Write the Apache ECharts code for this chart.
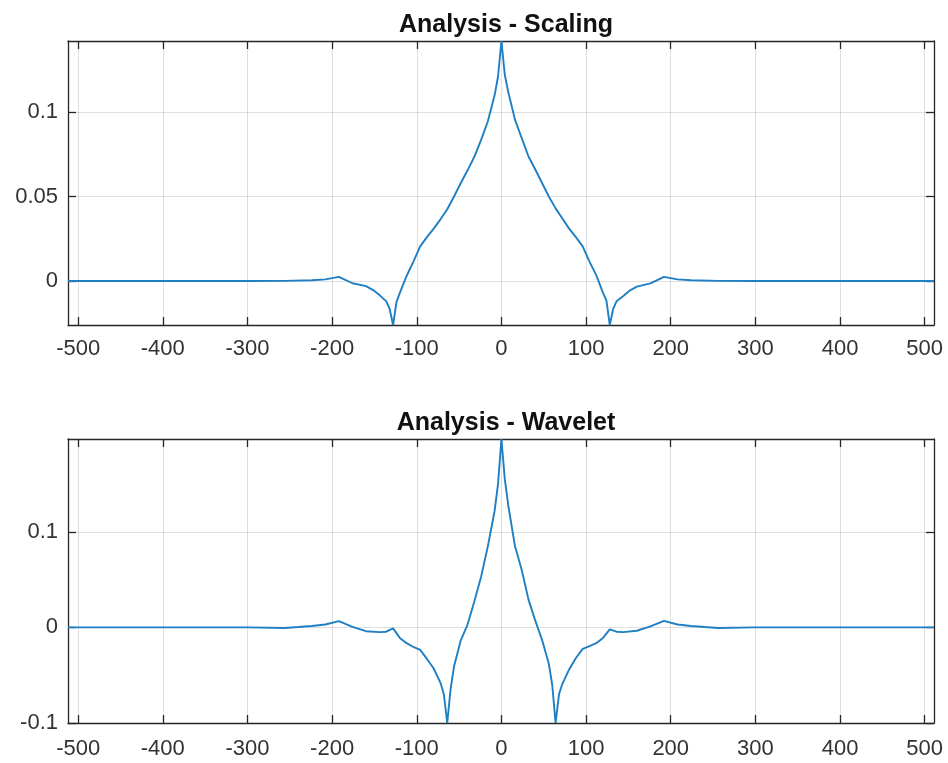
<!DOCTYPE html>
<html>
<head>
<meta charset="utf-8">
<script src="https://cdn.jsdelivr.net/npm/echarts@6/dist/echarts.min.js"></script>
<style>html,body{margin:0;padding:0;background:#fff}#c{width:948px;height:763px}</style>
</head>
<body>
<div id="c"></div>
<script>
// ---- data ----
var xTicks = [-500, -400, -300, -200, -100, 0, 100, 200, 300, 400, 500];
var scalingYTicks = [0, 0.05, 0.1];
var waveletYTicks = [-0.1, 0, 0.1];

var scalingX = [-512, -300, -256, -224, -208, -192, -176, -160, -152, -144, -136, -132, -128, -124, -120, -112, -104, -96, -88, -80, -72, -64, -56, -48, -40, -32, -24, -16, -8, -4, 0,
  4, 8, 16, 24, 32, 40, 48, 56, 64, 72, 80, 88, 96, 104, 112, 120, 124, 128, 132, 136, 144, 152, 160, 176, 192, 208, 224, 256, 300, 511];
var scalingY = [0, 0, 0.0001, 0.0005, 0.001, 0.0025, -0.0013, -0.003, -0.0052, -0.0083, -0.012, -0.0165, -0.026, -0.0125, -0.007, 0.003, 0.0115, 0.0205, 0.026, 0.031, 0.0365, 0.0425, 0.050, 0.058, 0.0655, 0.0735, 0.0835, 0.0945, 0.110, 0.121, 0.142,
  0.122, 0.112, 0.0955, 0.0845, 0.0737, 0.066, 0.058, 0.050, 0.043, 0.037, 0.031, 0.026, 0.0205, 0.0115, 0.0035, -0.007, -0.0115, -0.026, -0.0165, -0.012, -0.0088, -0.0055, -0.0033, -0.0014, 0.0025, 0.001, 0.0005, 0.0001, 0, 0];

var waveletX = [-512, -300, -256, -240, -224, -208, -192, -176, -160, -144, -136, -128, -120, -112, -104, -96, -88, -80, -72, -68, -64, -60, -56, -48, -40, -32, -24, -16, -8, -4, 0,
  4, 8, 16, 24, 32, 40, 48, 56, 60, 64, 68, 72, 80, 88, 96, 104, 112, 120, 128, 136, 144, 160, 176, 192, 208, 224, 240, 256, 300, 511];
var waveletY = [0, 0, -0.0006, 0.0004, 0.0015, 0.003, 0.0065, 0.0005, -0.004, -0.005, -0.0045, -0.001, -0.011, -0.0165, -0.0205, -0.0235, -0.033, -0.043, -0.058, -0.07, -0.1, -0.064, -0.041, -0.0135, 0.003, 0.027, 0.053, 0.085, 0.122, 0.15, 0.197,
  0.155, 0.128, 0.085, 0.060, 0.029, 0.007, -0.013, -0.038, -0.06, -0.1, -0.07, -0.059, -0.044, -0.032, -0.0225, -0.0195, -0.0165, -0.011, -0.002, -0.0045, -0.005, -0.0035, 0.001, 0.0068, 0.003, 0.0015, 0.0004, -0.0006, 0, 0];

var titles = ['Analysis - Scaling', 'Analysis - Wavelet'];

// ---- chart ----
var chart = echarts.init(document.getElementById('c'), null, {renderer: 'canvas'});
var FONT = 'Liberation Sans, Arial, Helvetica, sans-serif';
var DARK = '#262626';
var LABELC = '#333333';
var GRIDC = 'rgba(38,38,38,0.15)';
var LINEC = '#1f7fc4';

function pairs(xs, ys) { return xs.map(function (x, i) { return [x, ys[i]]; }); }

function xAxis(gi, pos, showLabel, margin) {
  return {
    type: 'value', gridIndex: gi, position: pos, min: -512, max: 511,
    axisLine: {show: true, onZero: false, lineStyle: {color: DARK, width: 1.3}},
    axisTick: {show: true, inside: true, length: 8, customValues: xTicks, lineStyle: {color: DARK, width: 1.3}},
    axisLabel: {show: showLabel, customValues: xTicks, color: LABELC, fontSize: 22, fontFamily: FONT, margin: margin},
    splitLine: {show: pos === 'bottom', lineStyle: {color: GRIDC, width: 1}}
  };
}
function yAxis(gi, pos, showLabel, mn, mx, ticks) {
  return {
    type: 'value', gridIndex: gi, position: pos, min: mn, max: mx,
    axisLine: {show: true, onZero: false, lineStyle: {color: DARK, width: 1.3}},
    axisTick: {show: true, inside: true, length: 8, customValues: ticks, lineStyle: {color: DARK, width: 1.3}},
    axisLabel: {show: showLabel, customValues: ticks, color: LABELC, fontSize: 22, fontFamily: FONT, margin: 10},
    splitLine: {show: pos === 'left', lineStyle: {color: GRIDC, width: 1}}
  };
}

var option = {
  backgroundColor: '#fff',
  animation: false,
  title: [
    {text: titles[0], left: 501, top: 8, textAlign: 'center', textStyle: {fontFamily: FONT, fontWeight: 'bold', fontSize: 25, color: '#111'}},
    {text: titles[1], left: 501, top: 406, textAlign: 'center', textStyle: {fontFamily: FONT, fontWeight: 'bold', fontSize: 25, color: '#111'}}
  ],
  grid: [
    {left: 68, top: 41, width: 866, height: 284, containLabel: false},
    {left: 68, top: 439, width: 866, height: 284, containLabel: false}
  ],
  xAxis: [
    xAxis(0, 'bottom', true, 13), xAxis(0, 'top', false, 8),
    xAxis(1, 'bottom', true, 15), xAxis(1, 'top', false, 8)
  ],
  yAxis: [
    yAxis(0, 'left', true, -0.026, 0.142, scalingYTicks), yAxis(0, 'right', false, -0.026, 0.142, scalingYTicks),
    yAxis(1, 'left', true, -0.1, 0.197, waveletYTicks), yAxis(1, 'right', false, -0.1, 0.197, waveletYTicks)
  ],
  series: [
    {type: 'line', xAxisIndex: 0, yAxisIndex: 0, data: pairs(scalingX, scalingY), showSymbol: false, symbol: 'none',
      lineStyle: {color: LINEC, width: 1.9}, clip: true},
    {type: 'line', xAxisIndex: 2, yAxisIndex: 2, data: pairs(waveletX, waveletY), showSymbol: false, symbol: 'none',
      lineStyle: {color: LINEC, width: 1.9}, clip: true}
  ]
};
chart.setOption(option);
</script>
</body>
</html>
